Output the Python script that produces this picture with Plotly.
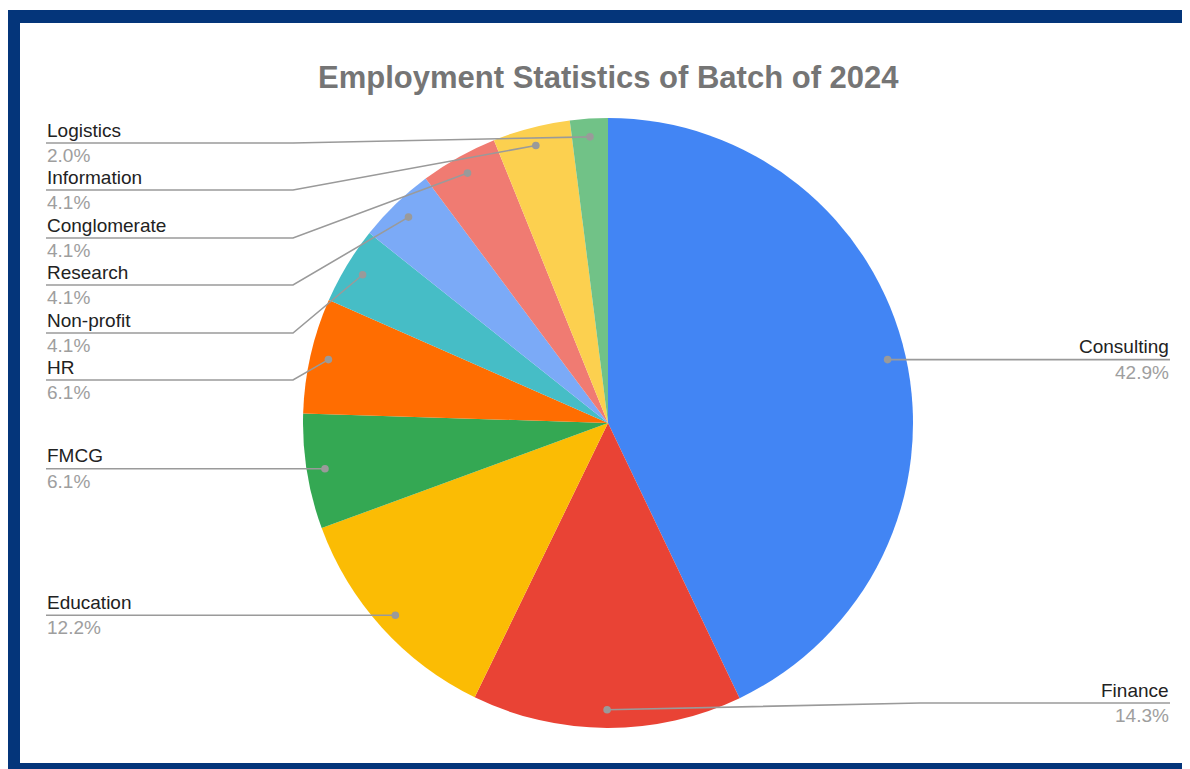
import math
import plotly.graph_objects as go

# ---------------- data ----------------
sectors = ["Consulting", "Finance", "Education", "FMCG", "HR",
           "Non-profit", "Research", "Conglomerate", "Information", "Logistics"]
shares = [42.9, 14.3, 12.2, 6.1, 6.1, 4.1, 4.1, 4.1, 4.1, 2.0]
colors = ["#4285F4", "#E94335", "#FBBC04", "#34A853", "#FF6D01",
          "#46BDC6", "#7BAAF7", "#F07B72", "#FCD04F", "#71C287"]
title_text = "Employment Statistics of Batch of 2024"

# ---------------- layout constants (page pixels) ----------------
PAGE_W, PAGE_H = 1190, 769
OFF = 8                      # default body margin of the html page
W, H = PAGE_W - OFF, PAGE_H - OFF
CX, CY, R = 608, 423, 305
DOT_FRAC = 0.94
LEFT_X, RIGHT_X = 46, 1170
ELBOW_LEFT, ELBOW_RIGHT = 293, 920
label_pos = {"Consulting": (357, "right"), "Finance": (703, "right"),
             "Education": (617, "left"), "FMCG": (467, "left"),
             "HR": (380, "left"), "Non-profit": (333, "left"),
             "Research": (285, "left"), "Conglomerate": (238, "left"),
             "Information": (190, "left"), "Logistics": (143, "left")}
LABEL_SIZE = 19
TITLE_SIZE = 31


def px(x):
    return (x - OFF) / W


def py(y):
    return 1 - (y - OFF) / H


fig = go.Figure()
fig.add_trace(go.Pie(
    labels=sectors, values=shares, sort=False, direction="clockwise", rotation=0,
    marker=dict(colors=colors, line=dict(width=0)), textinfo="none",
    domain=dict(x=[px(CX - R), px(CX + R)], y=[py(CY + R), py(CY - R)]),
    showlegend=False, hoverinfo="label+percent",
))

shapes = []
annotations = []

# frame
navy = "#04357A"
shapes.append(dict(type="rect", xref="paper", yref="paper", x0=px(7), x1=px(PAGE_W + 5),
                   y0=py(10), y1=py(23), fillcolor=navy, line=dict(width=0), layer="above"))
shapes.append(dict(type="rect", xref="paper", yref="paper", x0=px(7), x1=px(20),
                   y0=py(10), y1=py(PAGE_H + 5), fillcolor=navy, line=dict(width=0), layer="above"))
shapes.append(dict(type="rect", xref="paper", yref="paper", x0=px(7), x1=px(PAGE_W + 5),
                   y0=py(763), y1=py(PAGE_H + 5), fillcolor=navy, line=dict(width=0), layer="above"))

total = sum(shares)
cum = 0.0
for name, v in zip(sectors, shares):
    mid = (cum + v / 2) / total * 2 * math.pi
    cum += v
    dx = CX + DOT_FRAC * R * math.sin(mid)
    dy = CY - DOT_FRAC * R * math.cos(mid)
    ly, side = label_pos[name]
    right = side == "right"
    if right:
        end_x, elbow_x = RIGHT_X, ELBOW_RIGHT
    else:
        end_x, elbow_x = LEFT_X, ELBOW_LEFT
    if abs(dy - ly) < 5:
        ly = dy
        path = f"M {px(dx)} {py(dy)} L {px(end_x)} {py(dy)}"
    else:
        path = (f"M {px(dx)} {py(dy)} L {px(elbow_x)} {py(ly)} "
                f"L {px(end_x)} {py(ly)}")
    shapes.append(dict(type="path", xref="paper", yref="paper", path=path,
                       line=dict(color="#9a9a9a", width=1.6), layer="above"))
    rr = 3.8
    shapes.append(dict(type="circle", xref="paper", yref="paper",
                       x0=px(dx - rr), x1=px(dx + rr), y0=py(dy + rr), y1=py(dy - rr),
                       fillcolor="#9a9a9a", line=dict(width=0), layer="above"))
    xa = "right" if right else "left"
    annotations.append(dict(x=px(end_x), y=py(ly - 1.5), xref="paper", yref="paper",
                            text=name, showarrow=False, xanchor=xa, yanchor="bottom",
                            borderpad=0,
                            font=dict(family="Liberation Sans, Arial", size=LABEL_SIZE,
                                      color="#222222")))
    annotations.append(dict(x=px(end_x), y=py(ly + 1), xref="paper", yref="paper",
                            text=f"{v / total * 100:.1f}%", showarrow=False, xanchor=xa,
                            yanchor="top", borderpad=0,
                            font=dict(family="Liberation Sans, Arial", size=LABEL_SIZE,
                                      color="#9e9e9e")))

annotations.append(dict(x=px(CX), y=py(77), xref="paper", yref="paper",
                        text=f"<b>{title_text}</b>", showarrow=False, xanchor="center",
                        yanchor="middle",
                        font=dict(family="Liberation Sans, Arial", size=TITLE_SIZE,
                                  color="#757575")))

fig.update_layout(width=W, height=H, margin=dict(l=0, r=0, t=0, b=0),
                  paper_bgcolor="white", plot_bgcolor="white",
                  shapes=shapes, annotations=annotations)

fig.write_html("out.html")
